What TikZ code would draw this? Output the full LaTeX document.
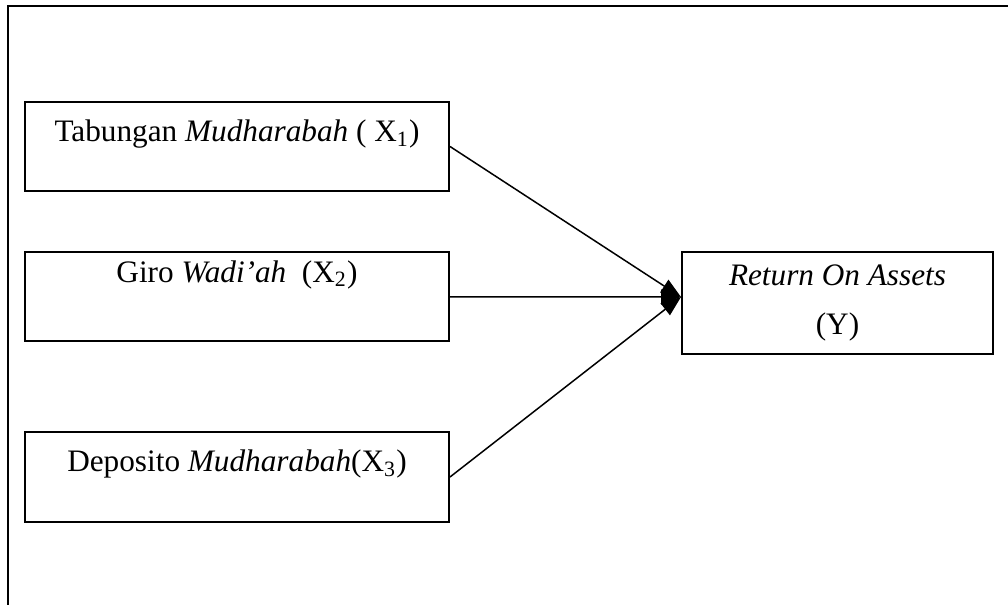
\documentclass[tikz,border=0pt]{standalone}
\usepackage{fontspec}
\setmainfont{Liberation Serif}
\usepackage{tikz}
\usetikzlibrary{arrows.meta}

\begin{document}
\begin{tikzpicture}[x=0.4pt,y=-0.4pt]
                \tikzstyle{varbox}=[rectangle, draw=black, line width=0.8pt, minimum width=169.6pt, minimum height=35.6pt, inner sep=0pt, text height=8pt, font=\fontsize{12.5pt}{14.4pt}\selectfont]
                \tikzstyle{edge} = [draw, line width=0.6pt, -{Triangle[length=8pt,width=6pt]}]

                \useasboundingbox (0,0) rectangle (1008,605);
                \draw[line width=0.9pt] (1008,6) -- (8,6) -- (8,605);

                \node[varbox, text depth=11.6pt] (tab) at (237,146.5) {Tabungan \textit{Mudharabah} ( X\textsubscript{1})};
                \node[varbox, text depth=19.6pt] (giro) at (237,297) {Giro \textit{Wadi’ah}\ \ (X\textsubscript{2})};
                \node[varbox, text depth=12pt, minimum height=36pt] (dep) at (237,477) {Deposito \textit{Mudharabah}(X\textsubscript{3})};
                \node[varbox, minimum width=124.4pt, minimum height=40.8pt, text height=, align=center] (roa) at (837.5,303) {\textit{Return On Assets}\\[5pt](Y)};
                \coordinate (tip) at ([yshift=2.4pt]roa.west);

                \foreach \source in {tab, giro, dep}
                \path[edge] (\source.east) -- (tip);
\end{tikzpicture}
\end{document}
